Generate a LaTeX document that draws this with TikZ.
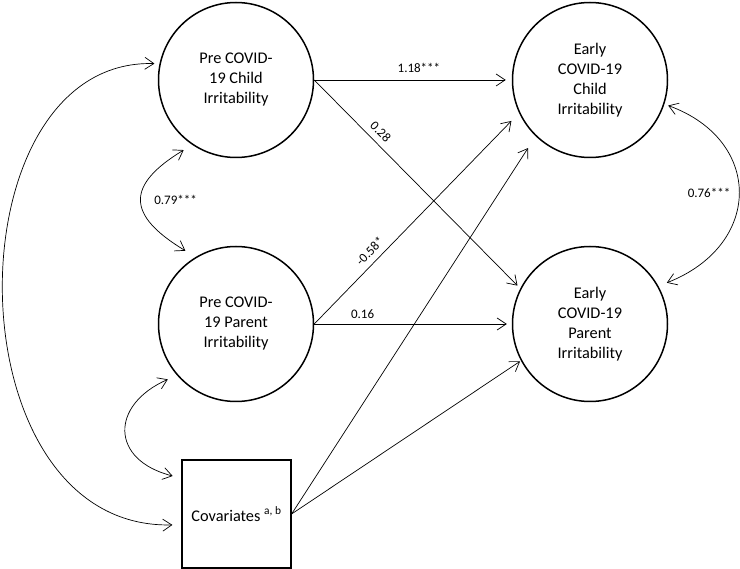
\documentclass[tikz,border=0pt]{standalone}
\usepackage{fontspec}
\setmainfont{Carlito}
\usetikzlibrary{arrows.meta}
\begin{document}
\begin{tikzpicture}[x=1pt,y=-1pt,
  latent/.style={circle, draw, line width=1.5pt, minimum size=155pt, inner sep=0pt, align=center, font=\fontsize{16.3}{20}\selectfont},
  obs/.style={rectangle, draw, line width=1.2pt, minimum width=109pt, minimum height=108pt, inner sep=0pt, font=\fontsize{16.3}{20}\selectfont},
  arr/.style={line width=0.7pt, -{Straight Barb[length=9pt,width=12pt]}},
  bi/.style={line width=0.7pt, {Straight Barb[length=9pt,width=12pt]}-{Straight Barb[length=9pt,width=12pt]}},
  lbl/.style={inner sep=0pt, font=\fontsize{13}{15}\selectfont}
]
\useasboundingbox (0,0) rectangle (740,569);
\node[latent] (PC) at (236,80) {Pre COVID-\\19 Child\\Irritability};
\node[latent] (PP) at (236,324) {Pre COVID-\\19 Parent\\Irritability};
\node[latent] (EC) at (590,80) {Early\\COVID-19\\Child\\Irritability};
\node[latent] (EP) at (590,324) {Early\\COVID-19\\Parent\\Irritability};
\node[obs] (CV) at (236.5,514) {Covariates \textsuperscript{a, b}};

% regression paths
\draw[arr, shorten >=6pt] (PC.east) -- node[lbl, pos=0.53, above=7pt] {1.18***} (EC.west);
\draw[arr, shorten >=4pt] (PC.east) -- node[lbl, pos=0.285, sloped, above=6pt] {0.28} (EP.153);
\draw[arr, shorten >=11pt] (PP.east) -- node[lbl, pos=0.31, sloped, above=6pt] {-0.58*} (EC.205);
\draw[arr, shorten >=5pt] (PP.east) -- node[lbl, pos=0.245, above=5pt] {0.16} (EP.west);
\draw[arr, shorten >=14pt] (CV.east) -- (EC.226);
\draw[arr, shorten >=1pt] (CV.east) -- (EP.208);

% covariances
\draw[bi, shorten <=10pt, shorten >=12pt] (PC.236) .. controls (126,185) and (126,215) .. node[lbl, pos=0.5, anchor=west, xshift=11pt] {0.79***} (PP.121);
\draw[bi, shorten <=10pt, shorten >=9pt] (PP.221) .. controls (110,405) and (110,460) .. (CV.147);
\draw[bi, shorten <=5pt, shorten >=9pt] (PC.168) .. controls (-51,58) and (-51,530) .. (CV.191);
\draw[bi, shorten <=4pt, shorten >=9pt] (EC.342) .. controls (763,140) and (763,245) .. node[lbl, pos=0.5, anchor=east, xshift=-7pt] {0.76***} (EP.29);
\end{tikzpicture}
\end{document}
